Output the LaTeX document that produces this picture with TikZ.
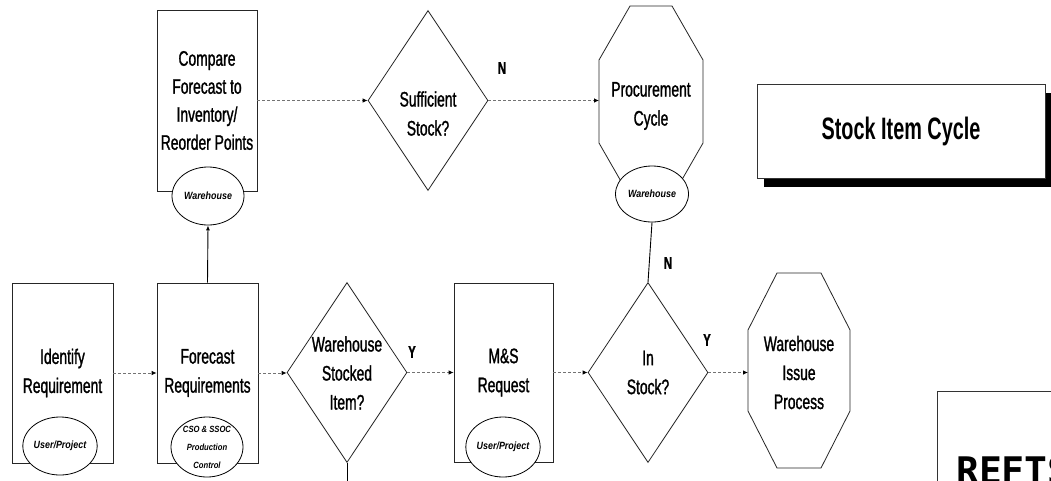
\documentclass[tikz,border=0pt]{standalone}
\usepackage{fontspec}
\setmainfont[FakeStretch=0.66,FakeBold=1.2]{Liberation Sans}
\newfontfamily\titlefont[FakeStretch=0.64]{Liberation Sans}
\newfontfamily\ellfont[FakeStretch=0.85]{Liberation Sans}
\newfontfamily\bigmono{DejaVu Sans Mono}
\usetikzlibrary{shapes.geometric,arrows.meta,shadows}
\newcommand\mainfs{\fontsize{21}{29}\selectfont}
\newcommand\myocta[3]{%
  \draw[shapeline] ([xshift=#2]#1.north west) -- ([xshift=-#2]#1.north east)
    -- ([yshift=-#3]#1.north east) -- ([yshift=#3]#1.south east)
    -- ([xshift=-#2]#1.south east) -- ([xshift=#2]#1.south west)
    -- ([yshift=#3]#1.south west) -- ([yshift=-#3]#1.north west) -- cycle;}
\tikzset{
  shapeline/.style={draw=black!85, line width=0.8pt},
  procbox/.style={shapeline, rectangle, minimum width=100, minimum height=180,
    inner sep=0pt, align=center, font=\mainfs},
  ellip/.style={ellipse, draw=black, line width=0.8pt, fill=white,
    minimum width=72, minimum height=58, inner sep=0pt, align=center,
    font={\ellfont\fontsize{10.5}{12}\selectfont\bfseries\itshape}},
  dec/.style={diamond, shapeline, minimum width=120, minimum height=180, inner sep=0pt},
  octnode/.style={inner sep=0pt, outer sep=0pt},
  shapetext/.style={align=center, inner sep=0pt, font=\mainfs},
  flow/.style={draw=black!55, dash pattern=on 3pt off 2pt, line width=0.8pt,
    -{Latex[length=5pt,width=4.5pt,color=black]}},
  vline/.style={draw=black, line width=0.9pt},
  lab/.style={inner sep=0pt, font=\bfseries\fontsize{17}{17}\selectfont},
  titlebox/.style={draw=black!80, fill=white, line width=0.8pt,
    minimum width=288, minimum height=94, inner sep=0pt,
    drop shadow={shadow xshift=7pt, shadow yshift=-9pt, fill=black, opacity=1},
    font={\titlefont\fontsize{31}{31}\selectfont\bfseries}}
}
\begin{document}
\begin{tikzpicture}[x=1pt,y=-1pt]
\useasboundingbox (0,0) rectangle (1051,480);
\clip (0,0) rectangle (1051,480);
\fill[white] (0,0) rectangle (1051,480);

% process boxes
\node[procbox, minimum height=181, font=\fontsize{21}{28}\selectfont] (cmp) at (207,100.5)
  {Compare\\Forecast to\\Inventory/\\Reorder Points};
\node[procbox, minimum width=101] (idr) at (62.5,373) {Identify\\Requirement};
\node[procbox, minimum width=101] (fcst) at (207.5,373) {Forecast\\Requirements};
\node[procbox, minimum width=99, minimum height=179] (msr) at (503.5,372.5) {M\&S\\Request};

% decisions
\node[dec] (suff) at (428,100.5) {};
\node[shapetext] (suffT) at (428,113.5) {Sufficient\\Stock?};
\node[dec] (wsi) at (347,372.5) {};
\node[shapetext] (wsiT) at (347,373) {Warehouse\\Stocked\\Item?};
\node[dec] (inst) at (648,372.5) {};
\node[shapetext] (instT) at (648,372.5) {In\\Stock?};

% octagons
\node[octnode, minimum width=104, minimum height=191] (proc) at (651,101.5) {};
\myocta{proc}{31}{54}
\node[shapetext] (procT) at (651,106) {Procurement\\Cycle};
\node[octnode, minimum width=102, minimum height=195] (wip) at (799,370.5) {};
\myocta{wip}{29}{57}
\node[shapetext] (wipT) at (799,372.5) {Warehouse\\Issue\\Process};

% responsibility ellipses
\node[ellip] (cmpE) at (208,196) {Warehouse};
\node[ellip] (idrE) at (60,446) {User/Project};
\node[ellip, minimum height=60, font={\ellfont\fontsize{9}{18}\selectfont\bfseries\itshape}]
  (fcstE) at (207,447) {CSO \& SSOC\\Production\\Control};
\node[ellip, minimum height=60] (msrE) at (503,447) {User/Project};
\node[ellip, minimum width=73, minimum height=56] (procE) at (652,194) {Warehouse};

% title
\node[titlebox] (title) at (901,131) {Stock Item Cycle};

% partial box at bottom right
\node[draw=black!80, line width=0.8pt, minimum width=200, minimum height=200,
  anchor=north west, inner sep=0pt] (ref) at (937,391) {};
\node[anchor=base west, inner sep=0pt, font=\bigmono\bfseries\fontsize{38}{38}\selectfont]
  (refT) at (956,484) {REFTS};

% connectors
\draw[flow] (idr.east) -- (fcst.west);
\draw[flow] (fcst.east) -- (fcst.east -| wsi.west);
\draw[flow] (wsi.east) -- (wsi.east -| msr.west);
\draw[flow] (msr.east) -- (msr.east -| inst.west);
\draw[flow] (inst.east) -- (inst.east -| wip.west);
\draw[flow] (cmp.east) -- (cmp.east -| suff.west);
\draw[flow] (suff.east) -- (suff.east -| proc.west);
\draw[vline, -{Latex[length=5pt,width=4pt]}] (fcst.north) -- (cmpE.south);
\draw[vline] (inst.north) -- (procE.south);
\coordinate (wsiEnd) at (347,490);
\draw[vline] (wsi.south) -- (wsiEnd);

% branch labels
\node[lab] (n1) at (502,68) {N};
\node[lab] (n2) at (668,263) {N};
\node[lab] (y1) at (412,352) {Y};
\node[lab] (y2) at (707,340) {Y};
\end{tikzpicture}
\end{document}
